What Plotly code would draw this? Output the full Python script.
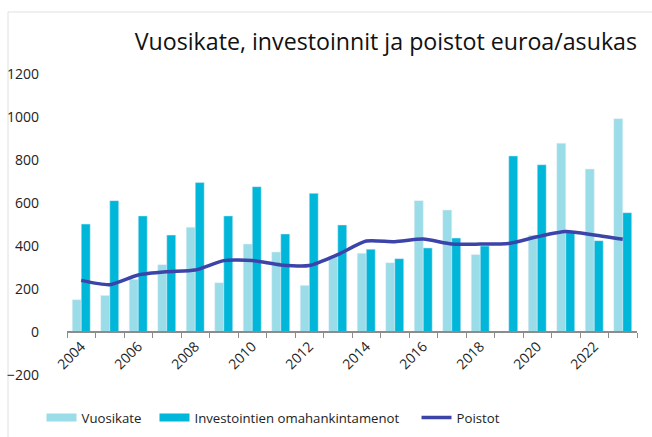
import plotly.graph_objects as go

years = list(range(2004, 2024))
vuosikate = [150, 170, 245, 313, 487, 229, 409, 372, 217, 350,
             366, 322, 611, 567, 360, None, 450, 878, 758, 992]
investoinnit = [502, 611, 540, 451, 695, 540, 676, 456, 645, 498,
                385, 341, 391, 437, 400, 819, 778, 465, 425, 555]
poistot = [240, 220, 265, 280, 288, 332, 332, 312, 309, 360,
           423, 420, 432, 409, 409, 412, 443, 467, 451, 431]
label_years = list(range(2004, 2023, 2))

c_light = "#9ADCE8"
c_dark = "#00B7DA"
c_line = "#3C44AA"
font = "Open Sans, Noto Sans, sans-serif"

fig = go.Figure()
fig.add_trace(go.Bar(x=years, y=vuosikate, marker_color=c_light, name="Vuosikate", showlegend=False))
fig.add_trace(go.Bar(x=years, y=investoinnit, marker_color=c_dark,
                     name="Investointien omahankintamenot", showlegend=False))
fig.add_trace(go.Scatter(x=years, y=poistot, mode="lines", name="Poistot", showlegend=False,
                         line=dict(color=c_line, width=3.5, shape="spline", smoothing=0.6)))

# legend entries (wide swatches like the original), one legend each so they can be spaced
legend_items = [("Vuosikate", c_light, 8, "legend", -0.0447),
                ("Investointien omahankintamenot", c_dark, 8, "legend2", 0.1535),
                ("Poistot", c_line, 3.5, "legend3", 0.6132)]
for name, col, w, lg, _ in legend_items:
    fig.add_trace(go.Scatter(x=[None], y=[None], mode="lines", name=name, legend=lg,
                             line=dict(color=col, width=w)))

legend_style = dict(orientation="h", xanchor="left", y=-0.143, yanchor="middle",
                    font=dict(size=13.2), itemwidth=30, bgcolor="rgba(0,0,0,0)")

fig.update_layout(
    width=652,
    height=437,
    paper_bgcolor="white",
    plot_bgcolor="white",
    barmode="group",
    bargap=0.37,
    bargroupgap=0,
    margin=dict(l=67, r=15, t=74, b=62, autoexpand=False),
    font=dict(family=font, size=14, color="#222"),
    title=dict(text="Vuosikate, investoinnit ja poistot euroa/asukas",
               font=dict(family=font, size=23.2, color="#111"),
               x=1, xref="paper", xanchor="right", y=1 - 42 / 437, yanchor="middle"),
    legend=dict(x=legend_items[0][4], **legend_style),
    legend2=dict(x=legend_items[1][4], **legend_style),
    legend3=dict(x=legend_items[2][4], **legend_style),
    shapes=[dict(type="rect", xref="paper", yref="paper", x0=-0.1035, x1=2, y0=-2, y1=1.206,
                 line=dict(color="#E0E0E0", width=1), layer="below")],
)

fig.update_xaxes(
    range=[2003.5, 2023.5],
    tickvals=label_years,
    ticktext=[str(y) for y in label_years],
    tickangle=-45,
    ticks="",
    showgrid=False,
    zeroline=False,
    showline=True,
    linecolor="#8C8C8C",
    linewidth=1.5,
    anchor="free",
    position=200 / 1400,
    automargin=False,
    minor=dict(ticks="outside", ticklen=5, tickcolor="#8C8C8C", tick0=2003.5, dtick=1, showgrid=False),
    tickfont=dict(size=14),
)

fig.update_yaxes(
    range=[-200, 1200],
    tickvals=list(range(-200, 1201, 200)),
    showgrid=False,
    zeroline=False,
    showline=False,
    ticks="",
    automargin=False,
    ticklabelstandoff=27,
    tickfont=dict(size=14),
)

fig.write_html("out.html", config={"displayModeBar": False},
               post_script="document.body.style.margin='0';")
